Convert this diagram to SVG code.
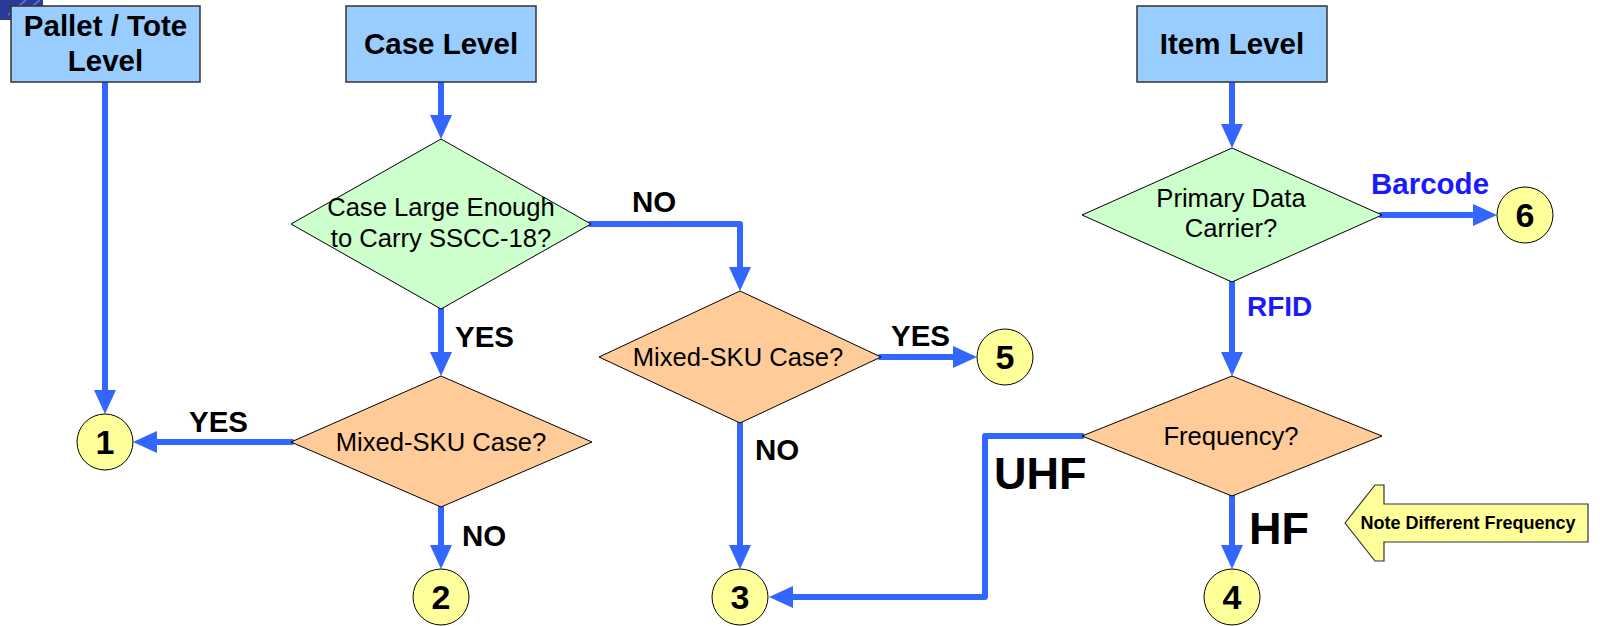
<svg xmlns="http://www.w3.org/2000/svg" width="1600" height="626" viewBox="0 0 1600 626">
<style>
.box{fill:#99CCFF;stroke:#333333;stroke-width:1.5}
.dg{fill:#CCFFCC;stroke:#000000;stroke-width:1}
.do{fill:#FFCC99;stroke:#000000;stroke-width:1}
.cir{fill:#FFFF99;stroke:#000000;stroke-width:1}
.hdr{font-family:"Liberation Sans",Arial,sans-serif;font-weight:bold;font-size:29.5px;fill:#000;text-anchor:middle}
.q{font-family:"Liberation Sans",Arial,sans-serif;font-size:25.6px;fill:#000;text-anchor:middle}
.num{font-family:"Liberation Sans",Arial,sans-serif;font-weight:bold;font-size:34px;fill:#000;text-anchor:middle}
.lbl{font-family:"Liberation Sans",Arial,sans-serif;font-weight:bold;font-size:29.5px;fill:#000}
.big{font-family:"Liberation Sans",Arial,sans-serif;font-weight:bold;font-size:45px;fill:#000}
.blu{font-family:"Liberation Sans",Arial,sans-serif;font-weight:bold;font-size:28px;fill:#1A1AFF}
.note{font-family:"Liberation Sans",Arial,sans-serif;font-weight:bold;font-size:18px;fill:#000;text-anchor:middle}
.con{fill:none;stroke:#3366FF;stroke-width:6;stroke-linecap:round;stroke-linejoin:round;marker-end:url(#ah)}
</style>
<defs>
<marker id="ah" viewBox="0 0 24 22" markerWidth="24" markerHeight="22" refX="14" refY="11" orient="auto" markerUnits="userSpaceOnUse">
<path d="M0,0 L24,11 L0,22 Z" fill="#3366FF"/>
</marker>
</defs>
<g id="decoration">
<path d="M0,0 H43 V15 H11 V20 H0 Z" fill="#2B3A96"/>
<path d="M8,15 L26,0 M22,15 L40,0" stroke="#6A7CCF" stroke-width="1.5"/>
</g>
<g id="connectors">
<path class="con" d="M105,82 V404"/>
<path class="con" d="M441,82 V129"/>
<path class="con" d="M590,224 H740 V281"/>
<path class="con" d="M441,308 V366"/>
<path class="con" d="M292,442 H143"/>
<path class="con" d="M441,507 V559"/>
<path class="con" d="M880,357 H967"/>
<path class="con" d="M740,422 V559"/>
<path class="con" d="M1232,82 V138"/>
<path class="con" d="M1381,215 H1487"/>
<path class="con" d="M1232,282 V366"/>
<path class="con" d="M1082,436 H985 V597 H779"/>
<path class="con" d="M1232,496 V559"/>
</g>
<g id="pallet">
<rect class="box" x="11" y="6" width="189" height="76"/>
<text class="hdr" x="105.5" y="36">Pallet / Tote</text>
<text class="hdr" x="105.5" y="71">Level</text>
</g>
<g id="case">
<rect class="box" x="346" y="6" width="190" height="76"/>
<text class="hdr" x="441" y="54">Case Level</text>
</g>
<g id="item">
<rect class="box" x="1137" y="6" width="190" height="76"/>
<text class="hdr" x="1232" y="54">Item Level</text>
</g>
<g id="caseLarge">
<polygon class="dg" points="441,139 591,224 441,309 291,224"/>
<text class="q" x="441" y="216">Case Large Enough</text>
<text class="q" x="441" y="247">to Carry SSCC-18?</text>
</g>
<g id="mixed1">
<polygon class="do" points="441,376 592,442 441,507 291,442"/>
<text class="q" x="441" y="451">Mixed-SKU Case?</text>
</g>
<g id="mixed2">
<polygon class="do" points="740,291 881,357 740,423 599,357"/>
<text class="q" x="738" y="366">Mixed-SKU Case?</text>
</g>
<g id="primary">
<polygon class="dg" points="1232,148 1382,215 1232,282 1082,215"/>
<text class="q" x="1231" y="207">Primary Data</text>
<text class="q" x="1231" y="237">Carrier?</text>
</g>
<g id="frequency">
<polygon class="do" points="1232,376 1382,436 1232,496 1082,436"/>
<text class="q" x="1231" y="445">Frequency?</text>
</g>
<g id="c1"><circle class="cir" cx="105" cy="442" r="28"/><text class="num" x="105" y="454">1</text></g>
<g id="c2"><circle class="cir" cx="441" cy="597" r="28"/><text class="num" x="441" y="609">2</text></g>
<g id="c3"><circle class="cir" cx="740" cy="597" r="28"/><text class="num" x="740" y="609">3</text></g>
<g id="c4"><circle class="cir" cx="1232" cy="597" r="28"/><text class="num" x="1232" y="609">4</text></g>
<g id="c5"><circle class="cir" cx="1005" cy="357" r="28"/><text class="num" x="1005" y="369">5</text></g>
<g id="c6"><circle class="cir" cx="1525" cy="215" r="28"/><text class="num" x="1525" y="227">6</text></g>
<g id="labels">
<text class="lbl" x="632" y="212">NO</text>
<text class="lbl" x="455" y="347">YES</text>
<text class="lbl" x="189" y="432">YES</text>
<text class="lbl" x="462" y="546">NO</text>
<text class="lbl" x="891" y="346">YES</text>
<text class="lbl" x="755" y="460">NO</text>
<text class="big" x="994" y="489">UHF</text>
<text class="big" x="1249" y="544">HF</text>
<text class="blu" x="1247" y="316">RFID</text>
<text class="blu" x="1371" y="194" style="font-size:29.5px">Barcode</text>
</g>
<g id="noteCallout">
<polygon points="1345,523 1375,485 1384,485 1384,504 1588,504 1588,542 1384,542 1384,561 1375,561" fill="#FFFF99" stroke="#333333" stroke-width="1.2"/>
<text class="note" x="1468" y="529">Note Different Frequency</text>
</g>
</svg>
